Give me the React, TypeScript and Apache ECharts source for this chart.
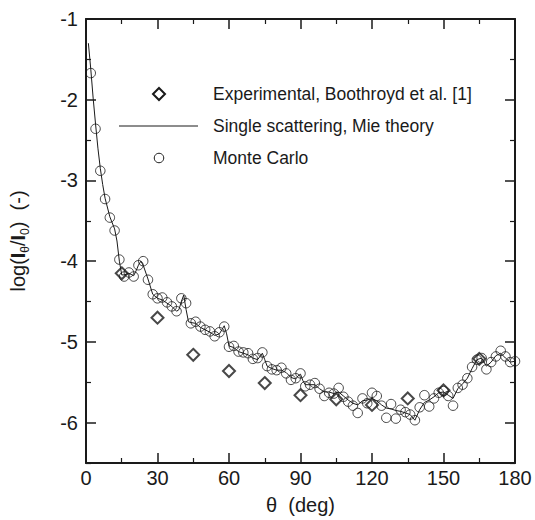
import React, { useEffect, useRef } from "react";
import * as echarts from "echarts";

// Mie theory (single scattering) curve
const mieTheta = [1, 2, 3, 4, 5, 6, 7, 8, 10, 12, 13, 14, 15, 16, 18, 20, 21, 22, 23, 24, 26, 28, 30, 32, 34, 36, 38, 39, 40, 41, 42, 43, 44, 46, 48, 50, 52, 54, 56, 57, 58, 59, 60, 62, 64, 66, 68, 70, 72, 73, 74, 75, 76, 78, 80, 82, 84, 86, 88, 89, 90, 91, 92, 94, 96, 98, 100, 102, 104, 106, 108, 110, 112, 114, 116, 118, 120, 122, 124, 126, 128, 130, 132, 134, 136, 138, 140, 142, 144, 146, 148, 150, 152, 154, 156, 158, 160, 162, 164, 166, 168, 170, 172, 174, 176, 178, 180];
const mieValue = [-1.3, -1.62, -1.98, -2.3, -2.6, -2.85, -3.05, -3.22, -3.45, -3.6, -3.75, -4.0, -4.17, -4.17, -4.15, -4.18, -4.12, -4.05, -4.0, -4.05, -4.22, -4.41, -4.46, -4.48, -4.52, -4.56, -4.62, -4.6, -4.5, -4.42, -4.6, -4.75, -4.76, -4.77, -4.82, -4.85, -4.88, -4.92, -4.9, -4.85, -4.8, -4.9, -5.05, -5.07, -5.12, -5.14, -5.16, -5.2, -5.22, -5.18, -5.14, -5.22, -5.3, -5.33, -5.35, -5.35, -5.38, -5.44, -5.46, -5.42, -5.4, -5.48, -5.53, -5.53, -5.53, -5.58, -5.62, -5.62, -5.64, -5.62, -5.67, -5.72, -5.76, -5.78, -5.73, -5.72, -5.7, -5.73, -5.78, -5.82, -5.83, -5.85, -5.86, -5.88, -5.9, -5.97, -5.84, -5.75, -5.72, -5.68, -5.63, -5.62, -5.66, -5.7, -5.58, -5.52, -5.45, -5.33, -5.22, -5.2, -5.3, -5.25, -5.17, -5.14, -5.2, -5.25, -5.24];

// Monte Carlo
const mcTheta = [2, 4, 6, 8, 10, 12, 14, 16, 18, 20, 22, 24, 26, 28, 30, 32, 34, 36, 38, 40, 42, 44, 46, 48, 50, 52, 54, 56, 58, 60, 62, 64, 66, 68, 70, 72, 74, 76, 78, 80, 82, 84, 86, 88, 90, 92, 94, 96, 98, 100, 102, 104, 106, 108, 110, 112, 114, 116, 118, 120, 122, 124, 126, 128, 130, 132, 134, 136, 138, 140, 142, 144, 146, 148, 150, 152, 154, 156, 158, 160, 162, 164, 166, 168, 170, 172, 174, 176, 178, 180];
const mcValue = [-1.67, -2.36, -2.88, -3.23, -3.46, -3.62, -3.98, -4.19, -4.14, -4.19, -4.05, -4.0, -4.23, -4.41, -4.46, -4.45, -4.51, -4.56, -4.62, -4.46, -4.52, -4.77, -4.75, -4.81, -4.85, -4.87, -4.93, -4.88, -4.81, -5.06, -5.05, -5.12, -5.13, -5.14, -5.21, -5.2, -5.13, -5.3, -5.34, -5.35, -5.32, -5.39, -5.47, -5.45, -5.39, -5.55, -5.53, -5.51, -5.58, -5.67, -5.63, -5.64, -5.57, -5.68, -5.74, -5.79, -5.88, -5.7, -5.76, -5.63, -5.67, -5.79, -5.94, -5.77, -5.95, -5.84, -5.87, -5.9, -5.97, -5.81, -5.66, -5.8, -5.7, -5.63, -5.61, -5.67, -5.79, -5.57, -5.53, -5.45, -5.31, -5.22, -5.2, -5.34, -5.25, -5.18, -5.11, -5.18, -5.25, -5.24];

// Experimental, Boothroyd et al.
const expTheta = [15, 30, 45, 60, 75, 90, 105, 120, 135, 150, 165];
const expValue = [-4.15, -4.7, -5.16, -5.36, -5.51, -5.66, -5.71, -5.78, -5.7, -5.6, -5.21];

const yMajorTicks = [-6, -5, -4, -3, -2, -1];
const yMinorTicks = [-6.5, -5.5, -4.5, -3.5, -2.5, -1.5];

const legendLabels = ["Experimental, Boothroyd et al. [1]", "Single scattering, Mie theory", "Monte Carlo"];

const INK = "#1a1a1a";
const FONT = "'Liberation Sans', Arial, Helvetica, sans-serif";

export default function App() {
  const ref = useRef<HTMLDivElement>(null);
  useEffect(() => {
    if (!ref.current) return;
    const chart = echarts.init(ref.current, null, { renderer: "svg" });
    const zip = (a: number[], b: number[]) => a.map((x, i) => [x, b[i]]);
    const baseX = {
      type: "value" as const,
      min: 0,
      max: 180,
      interval: 30,
      splitLine: { show: false },
      minorSplitLine: { show: false },
      axisLine: { show: true, onZero: false, lineStyle: { color: INK, width: 2 } },
      axisTick: { show: true, inside: true, length: 10, lineStyle: { color: INK, width: 1.5 } },
      minorTick: { show: true, splitNumber: 2, length: 5, lineStyle: { color: INK, width: 1.2 } },
    };
    const baseY = {
      type: "value" as const,
      min: -6.5,
      max: -1,
      splitLine: { show: false },
    };
    const option = {
      animation: false,
      grid: { left: 76, right: 20, top: 19, bottom: 52 },
      xAxis: [
        {
          ...baseX,
          position: "bottom",
          axisLabel: { fontSize: 20, color: INK, fontFamily: FONT, margin: 5 },
          name: "θ  (deg)",
          nameLocation: "middle",
          nameGap: 32,
          nameTextStyle: { fontSize: 20, color: INK, fontFamily: FONT },
        },
        { ...baseX, position: "top", axisLabel: { show: false } },
      ],
      yAxis: [
        {
          ...baseY,
          position: "left",
          axisLine: { show: true, onZero: false, lineStyle: { color: INK, width: 2 } },
          axisTick: { show: true, inside: true, length: 10, customValues: yMajorTicks, lineStyle: { color: INK, width: 1.5 } },
          axisLabel: { show: true, customValues: yMajorTicks, fontSize: 20, color: INK, fontFamily: FONT, margin: 8 },
          name: "{a|log(}{b|I}{s|θ}{a|/}{b|I}{s|0}{a|)  (-)}",
          nameLocation: "middle",
          nameGap: 55,
          nameTextStyle: {
            rich: {
              a: { fontSize: 20, color: INK, fontFamily: FONT, lineHeight: 26, verticalAlign: "middle" },
              b: { fontSize: 20, color: INK, fontFamily: FONT, fontWeight: "bold", lineHeight: 26, verticalAlign: "middle" },
              s: { fontSize: 12, color: INK, fontFamily: FONT, lineHeight: 12, verticalAlign: "bottom" },
            },
          },
        },
        {
          ...baseY,
          position: "left",
          axisLine: { show: false, onZero: false },
          axisTick: { show: true, inside: true, length: 5, customValues: yMinorTicks, lineStyle: { color: INK, width: 1.2 } },
          axisLabel: { show: false },
        },
        {
          ...baseY,
          position: "right",
          axisLine: { show: true, onZero: false, lineStyle: { color: INK, width: 2 } },
          axisTick: { show: true, inside: true, length: 10, customValues: yMajorTicks, lineStyle: { color: INK, width: 1.5 } },
          axisLabel: { show: false },
        },
        {
          ...baseY,
          position: "right",
          axisLine: { show: false, onZero: false },
          axisTick: { show: true, inside: true, length: 5, customValues: yMinorTicks, lineStyle: { color: INK, width: 1.2 } },
          axisLabel: { show: false },
        },
      ],
      series: [
        {
          name: legendLabels[1],
          type: "line",
          data: zip(mieTheta, mieValue),
          symbol: "none",
          lineStyle: { color: INK, width: 1 },
          z: 2,
        },
        {
          name: legendLabels[2],
          type: "scatter",
          data: zip(mcTheta, mcValue),
          symbol: "circle",
          symbolSize: 9.5,
          itemStyle: { color: "rgba(0,0,0,0)", borderColor: INK, borderWidth: 1 },
          z: 3,
        },
        {
          name: legendLabels[0],
          type: "scatter",
          data: zip(expTheta, expValue),
          symbol: "diamond",
          symbolSize: 12,
          itemStyle: { color: "rgba(0,0,0,0)", borderColor: INK, borderWidth: 2 },
          z: 4,
        },
      ],
      graphic: [
        {
          type: "polygon",
          shape: { points: [[159, 88], [165, 94], [159, 100], [153, 94]] },
          style: { fill: "none", stroke: INK, lineWidth: 2 },
        },
        {
          type: "text",
          x: 213,
          y: 94,
          style: { text: legendLabels[0], fontSize: 17.5, fontFamily: FONT, fill: INK, verticalAlign: "middle" },
        },
        {
          type: "line",
          shape: { x1: 119, y1: 126, x2: 198, y2: 126 },
          style: { stroke: INK, lineWidth: 1 },
        },
        {
          type: "text",
          x: 213,
          y: 126,
          style: { text: legendLabels[1], fontSize: 17.5, fontFamily: FONT, fill: INK, verticalAlign: "middle" },
        },
        {
          type: "circle",
          shape: { cx: 159, cy: 158, r: 4.75 },
          style: { fill: "none", stroke: INK, lineWidth: 1 },
        },
        {
          type: "text",
          x: 213,
          y: 158,
          style: { text: legendLabels[2], fontSize: 17.5, fontFamily: FONT, fill: INK, verticalAlign: "middle" },
        },
      ],
    };
    chart.setOption(option as any);
    return () => chart.dispose();
  }, []);
  return (
    <div
      ref={ref}
      style={{ position: "fixed", left: 0, top: 0, width: 535, height: 520, background: "#fff" }}
    />
  );
}
